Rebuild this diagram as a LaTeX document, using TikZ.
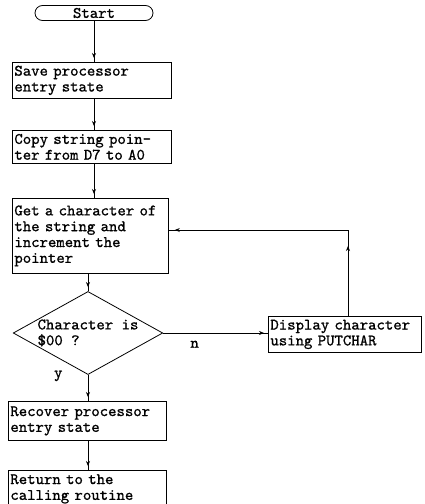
\documentclass[tikz,border=0pt]{standalone}
\usepackage{fontspec}
\setmonofont{lmmono10-regular.otf}[FakeBold=1]
\usetikzlibrary{shapes.geometric,arrows.meta,decorations.markings}

\tikzset{smalltip/.tip={Stealth[length=5pt,width=4pt]}}

\begin{document}
\begin{tikzpicture}[x=1pt,y=-1pt,
  txt/.style={font=\ttfamily\fontsize{16}{15.8}\selectfont},
  stepbox/.style={txt, draw, line width=0.8pt, anchor=north west, align=left,
    inner xsep=2pt, inner ysep=0pt},
  terminal/.style={txt, draw, line width=0.8pt, rounded corners=7.5pt,
    minimum width=118pt, minimum height=15pt, inner sep=0pt},
  decision/.style={txt, draw, line width=0.8pt, diamond, shape aspect=1.8,
    inner sep=0pt, align=left},
  flow/.style={line width=0.8pt, postaction={decorate},
    decoration={markings, mark=at position -4pt with {\arrow{smalltip}}}},
]
\useasboundingbox (0,0) rectangle (425,504);

% process steps
\node[terminal] (start) at (94,13) {Start};
\node[stepbox, text width=155pt, minimum height=36pt] (save) at (12,62)
  {Save processor\\entry state};
\node[stepbox, text width=155pt, minimum height=33pt] (copy) at (12,130)
  {Copy string poin-\\ter from D7 to A0};
\node[stepbox, text width=152pt, minimum height=75pt] (get) at (12,198)
  {Get a character of\\the string and\\increment the\\pointer};
\node[decision] (test) at (88,333) {Character is\\\$00 ?};
\node[stepbox, text width=149pt, minimum height=36pt] (show) at (268,316)
  {Display character\\using PUTCHAR};
\node[stepbox, text width=154pt, minimum height=39pt] (recover) at (8,401)
  {Recover processor\\entry state};
\node[stepbox, text width=154pt, minimum height=37pt] (ret) at (8,470)
  {Return to the\\calling routine};

% connectors
\draw[flow] (start.south) -- (start.south |- save.north);
\draw[flow] (start.south |- save.south) -- (start.south |- copy.north);
\draw[flow] (start.south |- copy.south) -- (start.south |- get.north);
\draw[flow] (test.north |- get.south) -- (test.north);
\draw[flow] (test.east) -- (test.east -| show.west)
  node[txt, pos=0.3, below=4pt] {n};
\draw[flow] (test.south) -- (test.south |- recover.north);
\draw[flow] (test.south |- recover.south) -- (test.south |- ret.north);
\coordinate (turn) at (348,230);
\draw[line width=0.8pt, postaction={decorate},
  decoration={markings,
    mark=at position 70pt with {\arrow{smalltip}},
    mark=at position -6pt with {\arrow{smalltip}}}]
  (turn |- show.north) -- (turn) -- (turn -| get.east);
\node[txt, left=22pt, yshift=-1pt] (ylabel) at (test.south) {y};
\end{tikzpicture}
\end{document}
